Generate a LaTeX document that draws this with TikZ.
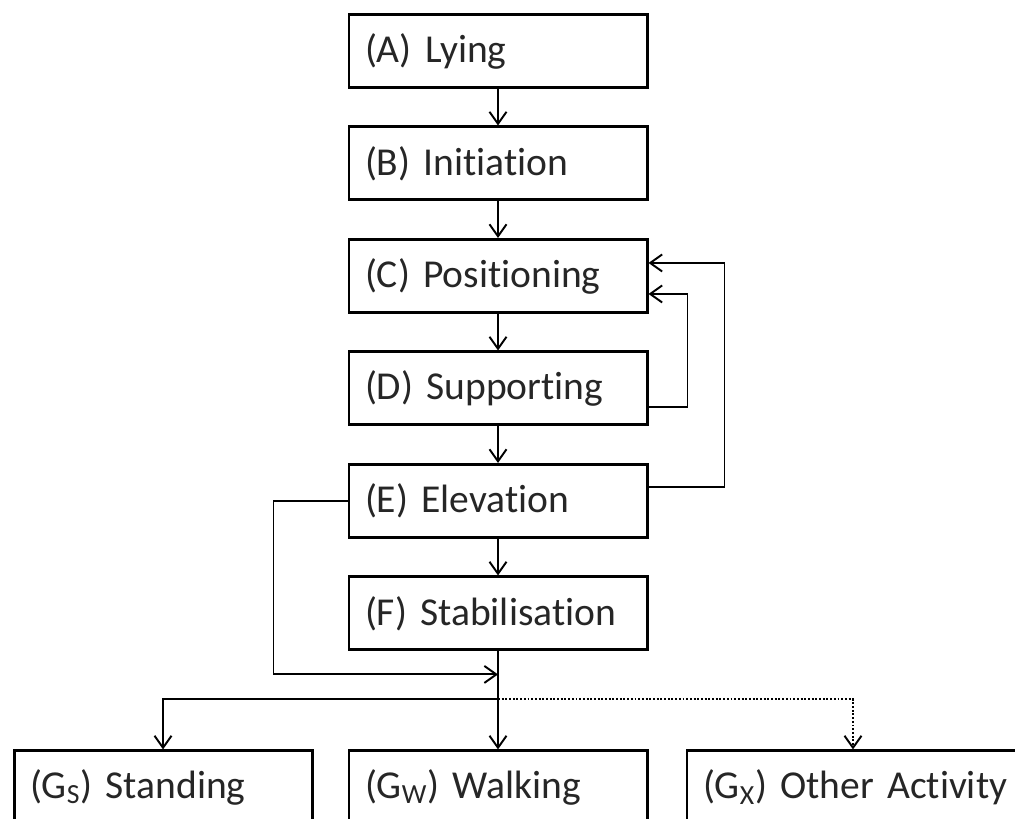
\documentclass[tikz,border=0pt]{standalone}
\usepackage{fontspec}
\setmainfont[Ligatures={NoCommon,NoContextual}]{Carlito}
\usetikzlibrary{positioning,arrows.meta}

\begin{document}
\begin{tikzpicture}[font=\fontsize{22.5}{26}\selectfont,stage/.style={draw,line width=1.7pt,minimum height=1.46cm,inner xsep=0.32cm,text width=5.32cm,align=left,text=black!85},arr/.style={line width=1.1pt,-{Straight Barb[length=0.24cm,width=0.34cm]}}]
      \clip (0,0) rectangle (20.3,-16.38);
      \node[stage] (a) at (9.96,-1.02) {(A) Lying};
      \node[stage,below=0.73cm of a] (b) {(B) Initiation};
      \node[stage,below=0.73cm of b] (c) {(C) Positioning};
      \node[stage,below=0.73cm of c] (d) {(D) Supporting};
      \node[stage,below=0.73cm of d] (e) {(E) Elevation};
      \node[stage,below=0.73cm of e] (f) {(F) Stabilisation};
      \node[stage,below=1.96cm of f] (gw) {(G\textsubscript{W}) Walking};
      \node[stage,left=0.68cm of gw] (gs) {(G\textsubscript{S}) Standing};
      \node[stage,text width=6.4cm,right=0.74cm of gw] (gx) {(G\textsubscript{X}) Other Activity};
      \coordinate[below=0.46cm of f.south] (fmerge);
      \coordinate[below=0.96cm of f.south] (fsplit);
      \draw[arr] (a) -- (b);
      \draw[arr] (b) -- (c);
      \draw[arr] (c) -- (d);
      \draw[arr] (d) -- (e);
      \draw[arr] (e) -- (f);
      \draw[arr] ([yshift=-0.37cm]d.east) -- ++(0.78,0) |- ([yshift=-0.36cm]c.east);
      \draw[arr] ([yshift=0.27cm]e.east) -- ++(1.52,0) |- ([yshift=0.26cm]c.east);
      \draw[arr] (e.west) -- ++(-1.48,0) |- (fmerge);
      \draw[line width=1.1pt] (f) -- (fsplit);
      \draw[arr] (fsplit) -- (gw);
      \draw[arr] (fsplit) -| (gs);
      \draw[arr,densely dotted] (fsplit) -| ([xshift=-0.2cm]gx.north);
    \end{tikzpicture}
\end{document}
